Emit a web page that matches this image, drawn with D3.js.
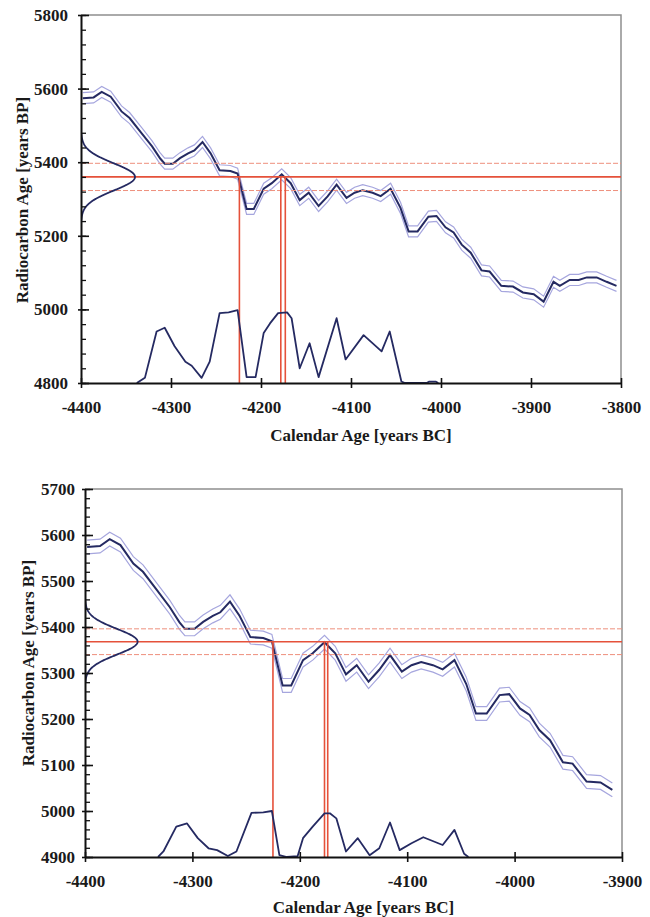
<!DOCTYPE html>
<html>
<head>
<meta charset="utf-8">
<script src="https://cdn.jsdelivr.net/npm/d3@7"></script>
<style>
  html, body { margin: 0; padding: 0; background: #ffffff; }
  svg { display: block; }
</style>
</head>
<body>
<svg id="chart" width="650" height="917"></svg>
<script>
// ---- Calibration curve (IntCal), calendar year BC (negative) vs radiocarbon age BP ----
const calYears = [-4398,-4386,-4377,-4367,-4355,-4346,-4333,-4321,-4312,-4307,-4298,-4290,-4281,-4274,-4265,-4256,-4246,-4234,-4226,-4216,-4208,-4197,-4188,-4177,-4167,-4157,-4147,-4136,-4126,-4116,-4105,-4096,-4087,-4076,-4067,-4056,-4045,-4036,-4026,-4014,-4005,-3995,-3986,-3977,-3967,-3955,-3946,-3933,-3920,-3909,-3897,-3886,-3875,-3868,-3857,-3847,-3838,-3827,-3816,-3805];
const c14Ages  = [5574,5576,5591,5578,5538,5520,5480,5443,5410,5396,5396,5411,5424,5432,5455,5424,5378,5376,5369,5273,5273,5328,5343,5367,5343,5297,5317,5281,5307,5339,5303,5317,5324,5317,5308,5328,5276,5212,5212,5252,5254,5223,5209,5176,5154,5106,5103,5064,5062,5046,5041,5021,5075,5064,5080,5080,5087,5087,5075,5064];
const curveSigma = 15;

// ---- Measured radiocarbon dates (mean, 1 sigma) ----
const dateMeans  = [5360, 5368];
const dateSigmas = [37, 28];

// ---- Calibrated probability distributions (relative, 1 = max) ----
const probYearsTop = [-4338,-4329,-4316,-4307,-4296,-4284,-4277,-4266,-4257,-4246,-4236,-4226,-4216,-4206,-4197,-4190,-4181,-4171,-4166,-4157,-4146,-4136,-4116,-4106,-4086,-4066,-4057,-4044,-4040,-4016,-4013,-4006,-4003];
const probTop      = [0,0.07,0.70,0.75,0.50,0.29,0.235,0.07,0.29,0.95,0.96,0.99,0.08,0.08,0.68,0.81,0.95,0.96,0.88,0.20,0.54,0.08,0.88,0.32,0.65,0.43,0.70,0.02,0,0,0.02,0.02,0];
const probYearsBottom = [-4332,-4327,-4315,-4305,-4295,-4285,-4277,-4267,-4259,-4245,-4234,-4226,-4219,-4212,-4202,-4197,-4188,-4177,-4172,-4166,-4157,-4146,-4135,-4126,-4116,-4107,-4096,-4085,-4067,-4056,-4047,-4043];
const probBottom      = [0,0.12,0.66,0.73,0.41,0.19,0.15,0.02,0.12,0.96,0.97,1.0,0.04,0,0.02,0.41,0.66,0.95,0.95,0.84,0.12,0.41,0.04,0.19,0.75,0.15,0.30,0.43,0.26,0.59,0.07,0];

// ---- Calibration intercepts (calendar years) ----
const cutsTop    = [-4224, -4178, -4173];
const cutsBottom = [-4225, -4177, -4174];

// ---- Axis ticks ----
const xTicksTop    = [-4400,-4300,-4200,-4100,-4000,-3900,-3800];
const yTicksTop    = [4800,5000,5200,5400,5600,5800];
const xTicksBottom = [-4400,-4300,-4200,-4100,-4000,-3900];
const yTicksBottom = [4900,5000,5100,5200,5300,5400,5500,5600,5700];

const xTitle = "Calendar Age [years BC]";
const yTitle = "Radiocarbon Age [years BP]";

const FONT = '"Liberation Serif", "Times New Roman", serif';
const NAVY = "#252a62", LAV = "#a6a6de", RED = "#e5513a", RED2 = "#ee8f7c";
const svg = d3.select("#chart");

function styleText(sel, fs) {
  sel.attr("font-family", FONT).attr("font-weight", "bold").attr("font-size", fs).attr("fill", "#1a1a1a");
}

function panel(o) {
  const x = d3.scaleLinear().domain(o.xDomain).range([o.left, o.right]);
  const y = d3.scaleLinear().domain(o.yDomain).range([o.bottom, o.top]);
  const g = svg.append("g");

  // frame (top and right in grey)
  g.append("path")
    .attr("d", `M${o.left},${o.top}H${o.right}V${o.bottom}`)
    .attr("fill", "none").attr("stroke", "#8e8e8e").attr("stroke-width", 1.5);

  const clipId = "clip" + o.id;
  svg.append("clipPath").attr("id", clipId).append("rect")
    .attr("x", o.left).attr("y", o.top).attr("width", o.right - o.left).attr("height", o.bottom - o.top);
  const pg = g.append("g").attr("clip-path", `url(#${clipId})`);

  // calibration curve with envelope
  const pts = calYears.map((yr, i) => ({yr, v: c14Ages[i]})).filter(d => d.yr <= o.xDomain[1]);
  const line = d3.line().x(d => x(d.yr));
  pg.append("path").datum(pts).attr("fill", "none").attr("stroke", LAV).attr("stroke-width", 1.2)
    .attr("d", line.y(d => y(d.v + curveSigma)));
  pg.append("path").datum(pts).attr("fill", "none").attr("stroke", LAV).attr("stroke-width", 1.2)
    .attr("d", line.y(d => y(d.v - curveSigma)));
  pg.append("path").datum(pts).attr("fill", "none").attr("stroke", NAVY).attr("stroke-width", 2)
    .attr("d", line.y(d => y(d.v)));

  // measured date: horizontal lines
  const m = dateMeans[o.idx], s = dateSigmas[o.idx];
  [m + s, m - s].forEach(v => {
    pg.append("line").attr("x1", o.left).attr("x2", o.right).attr("y1", y(v)).attr("y2", y(v))
      .attr("stroke", RED2).attr("stroke-width", 1).attr("stroke-dasharray", "5 2");
  });
  pg.append("line").attr("x1", o.left).attr("x2", o.right).attr("y1", y(m)).attr("y2", y(m))
    .attr("stroke", RED).attr("stroke-width", 1.6);

  // intercept verticals
  o.cuts.forEach(c => {
    pg.append("line").attr("x1", x(c)).attr("x2", x(c)).attr("y1", y(m)).attr("y2", o.bottom)
      .attr("stroke", RED).attr("stroke-width", 1.6);
  });

  // measured date distribution (normal) on the y-axis
  const gpts = d3.range(m - 3.2 * s, m + 3.2 * s + 0.5, 1)
    .map(v => ({v, p: Math.exp(-0.5 * ((v - m) / s) ** 2)}));
  pg.append("path").datum(gpts).attr("fill", "none").attr("stroke", NAVY).attr("stroke-width", 1.8)
    .attr("d", d3.line().x(d => x(o.xDomain[0] + o.gaussAmp * d.p)).y(d => y(d.v)));

  // calibrated distribution on the x-axis
  const ppts = o.probYears.map((yr, i) => ({yr, p: o.prob[i]}));
  pg.append("path").datum(ppts).attr("fill", "none").attr("stroke", NAVY).attr("stroke-width", 1.8)
    .attr("stroke-linejoin", "round")
    .attr("d", d3.line().x(d => x(d.yr)).y(d => y(o.yDomain[0] + o.probAmp * d.p)));

  // axes
  const fs = 17;
  const fmt = d => String(d);
  const xa = g.append("g").attr("transform", `translate(0,${o.bottom})`)
    .call(d3.axisBottom(x).tickValues(o.xTicks).tickFormat(fmt).tickSizeOuter(0).tickSizeInner(5).tickPadding(13));
  xa.select(".domain").attr("stroke", "#111").attr("stroke-width", 2);
  xa.selectAll(".tick line").attr("y1", -5).attr("y2", 5).attr("stroke", "#111").attr("stroke-width", 1.6);
  styleText(xa.selectAll(".tick text"), fs);

  const minorY = d3.range(o.yDomain[0], o.yDomain[1] + 0.1, o.yMinor);
  const ym = g.append("g").attr("transform", `translate(${o.left},0)`)
    .call(d3.axisRight(y).tickValues(minorY).tickSize(5).tickFormat(""));
  ym.select(".domain").remove();
  ym.selectAll(".tick line").attr("stroke", "#111").attr("stroke-width", 1.3);

  const ya = g.append("g").attr("transform", `translate(${o.left},0)`)
    .call(d3.axisLeft(y).tickValues(o.yTicks).tickFormat(fmt).tickSizeOuter(0).tickSizeInner(3).tickPadding(o.yPad));
  ya.select(".domain").attr("stroke", "#111").attr("stroke-width", 2);
  ya.selectAll(".tick line").attr("x1", -3).attr("x2", 8).attr("stroke", "#111").attr("stroke-width", 1.6);
  styleText(ya.selectAll(".tick text"), fs);

  // titles
  styleText(g.append("text").attr("x", (o.left + o.right) / 2 + 10).attr("y", o.xTitleY)
    .attr("text-anchor", "middle").text(xTitle), fs);
  styleText(g.append("text")
    .attr("transform", `translate(${o.yTitleX},${o.yTitleMid}) rotate(-90)`)
    .attr("text-anchor", "middle").text(yTitle), fs);
}

panel({
  id: "A", idx: 0, left: 81, right: 621, top: 15, bottom: 383,
  xDomain: [-4400, -3800], yDomain: [4800, 5800],
  xTicks: xTicksTop, yTicks: yTicksTop, yMinor: 40, yPad: 10,
  cuts: cutsTop, probYears: probYearsTop, prob: probTop, probAmp: 200, gaussAmp: 60,
  xTitleY: 441, yTitleX: 28, yTitleMid: 200
});
panel({
  id: "B", idx: 1, left: 85, right: 622, top: 489, bottom: 857,
  xDomain: [-4400, -3900], yDomain: [4900, 5700],
  xTicks: xTicksBottom, yTicks: yTicksBottom, yMinor: 20, yPad: 7,
  cuts: cutsBottom, probYears: probYearsBottom, prob: probBottom, probAmp: 100, gaussAmp: 49,
  xTitleY: 913, yTitleX: 34, yTitleMid: 663
});
</script>
</body>
</html>
